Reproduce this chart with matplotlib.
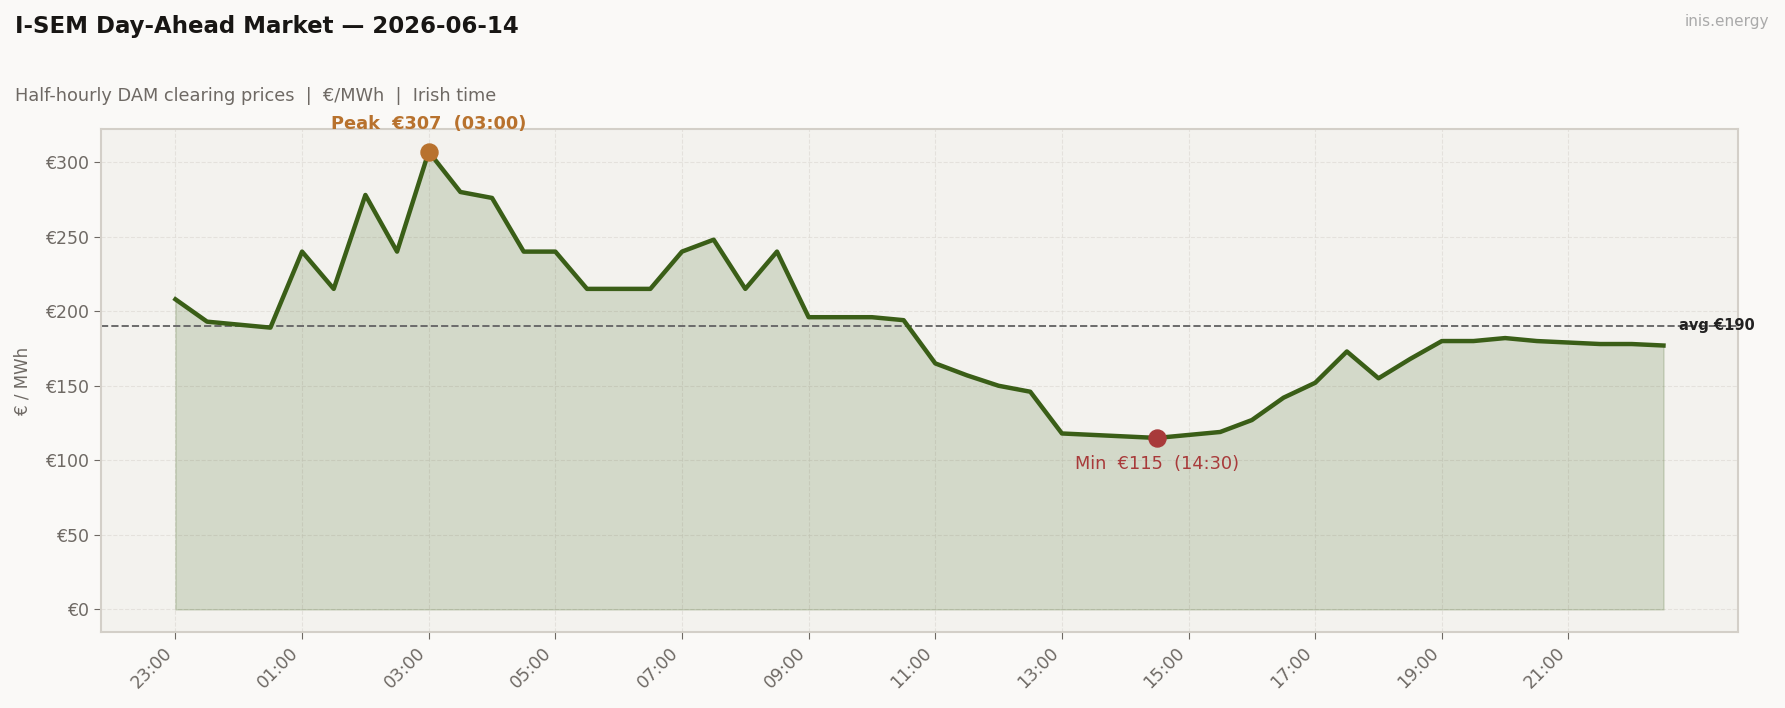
import matplotlib
matplotlib.use("Agg")
import matplotlib.pyplot as plt
import numpy as np

# half-hourly DAM prices, 23:00 -> 22:30 (Irish time)
start_hour = 23
prices = [208, 193, 191, 189, 240, 215, 278, 240, 307, 280, 276, 240,
          240, 215, 215, 215, 240, 248, 215, 240, 196, 196, 196, 194,
          165, 157, 150, 146, 118, 117, 116, 115, 117, 119, 127, 142,
          152, 173, 155, 168, 180, 180, 182, 180, 179, 178, 178, 177]
times = ["%02d:%02d" % ((start_hour + i // 2) % 24, 30 * (i % 2)) for i in range(len(prices))]

LINE = "#3a5e17"
PEAK = "#b8722e"
MIN = "#a83a3a"
TXT = "#6e6964"

x = np.arange(len(prices))
y = np.array(prices, dtype=float)
avg = y.mean()
i_max = int(np.argmax(y))
i_min = int(np.argmin(y))

fig = plt.figure(figsize=(17.85, 7.08), dpi=100, facecolor="#faf9f7")
ax = fig.add_axes([0.0566, 0.107, 0.917, 0.711])
ax.set_facecolor("#f3f2ee")

ax.fill_between(x, y, 0, color=LINE, alpha=0.17, linewidth=1.2)
ax.plot(x, y, color=LINE, linewidth=3.2, zorder=3)
ax.axhline(avg, color="#6b6b6b", linestyle="--", linewidth=1.4, zorder=2)
ax.text(x[-1] + 0.5, avg, "avg \u20ac%.0f" % avg, fontsize=10.5, fontweight="bold",
        color="#222222", va="center", ha="left")

ax.scatter([x[i_max]], [y[i_max]], s=150, color=PEAK, zorder=4)
ax.annotate("Peak  \u20ac%.0f  (%s)" % (y[i_max], times[i_max]), (x[i_max], y[i_max]),
            xytext=(0, 20), textcoords="offset points", ha="center", va="center",
            fontsize=12.8, fontweight="bold", color=PEAK, annotation_clip=False)
ax.scatter([x[i_min]], [y[i_min]], s=150, color=MIN, zorder=4)
ax.annotate("Min  \u20ac%.0f  (%s)" % (y[i_min], times[i_min]), (x[i_min], y[i_min]),
            xytext=(0, -19), textcoords="offset points", ha="center", va="center",
            fontsize=12.8, color=MIN)

ax.set_xticks(x[::4])
ax.set_xticklabels(times[::4], rotation=45, ha="right")
ax.set_yticks(range(0, 301, 50))
ax.set_yticklabels(["\u20ac%d" % v for v in range(0, 301, 50)])
ax.tick_params(colors=TXT, labelsize=12.5, length=5)
ax.set_ylabel("\u20ac / MWh", color=TXT, fontsize=12, labelpad=10)
ax.grid(True, linestyle="--", color="#dedbd5", linewidth=0.8, alpha=0.7)
ax.set_axisbelow(True)
for s in ax.spines.values():
    s.set_color("#d3cfc8")
    s.set_linewidth(1.5)

fig.text(0.0084, 0.963, "I-SEM Day-Ahead Market \u2014 2026-06-14", fontsize=16.5,
         fontweight="bold", color="#181614", va="center")
fig.text(0.0084, 0.865, "Half-hourly DAM clearing prices  |  \u20ac/MWh  |  Irish time",
         fontsize=12.8, color=TXT, va="center")
fig.text(0.991, 0.97, "inis.energy", fontsize=11, color="#aaaaaa", ha="right", va="center")

fig.savefig("out.png", dpi=100, facecolor=fig.get_facecolor())
